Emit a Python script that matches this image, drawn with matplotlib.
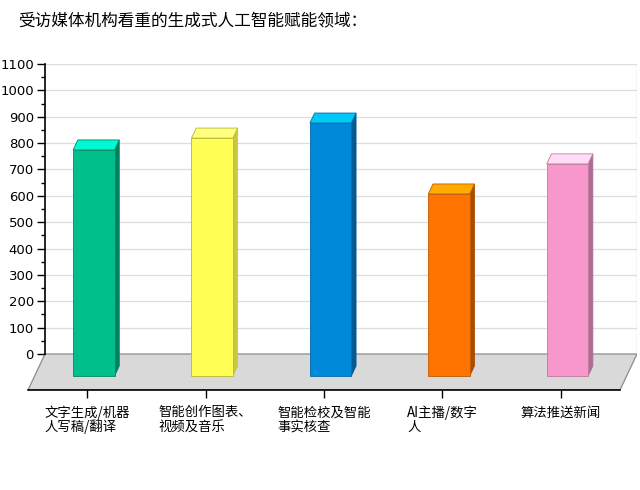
import numpy as np
import matplotlib
matplotlib.use('Agg')
import matplotlib.pyplot as plt
from matplotlib.patches import Polygon

plt.rcParams['font.family'] = ['Noto Sans CJK SC', 'DejaVu Sans']

# data
categories = ['文字生成/机器\n人写稿/翻译', '智能创作图表、\n视频及音乐', '智能检校及智能\n事实核查',
              'AI主播/数字\n人', '算法推送新闻']
values = [774, 819, 876, 607, 721]
front_colors = ['#00BF8A', '#FFFF55', '#0088D8', '#FF7300', '#F897CC']
top_colors = ['#00F8D4', '#FFFF80', '#00C8F8', '#FFAA00', '#FFDDF6']
side_colors = ['#00805E', '#C8C840', '#005A94', '#A84E00', '#B06C92']
edge_colors = ['#008A64', '#B8B830', '#006AA8', '#C05A00', '#C07AA0']

# oblique "3D" geometry: full floor depth in data units
depth_x = 0.1435
depth_y = 136.6
d_front = 0.611
d_back = 0.333
bar_w = 0.35

fig = plt.figure(figsize=(6.4, 4.9), dpi=100)
ax = fig.add_axes([28 / 640, 100 / 490, 609 / 640, 326 / 490])
ax.set_xlim(-0.5 - depth_x, 4.5)
ax.set_ylim(-depth_y, 1100)
ax.patch.set_visible(False)

yt = np.arange(0, 1101, 100)
# back wall grid and right wall
ax.hlines(yt[1:], -0.5, 4.5, color='#DDDDDD', lw=0.9, zorder=0)
ax.vlines(4.5, 0, 1100, color='#BBBBBB', lw=0.9, zorder=0)

# floor
floor = Polygon([(-0.5, 0), (4.5, 0), (4.5 - depth_x, -depth_y), (-0.5 - depth_x, -depth_y)],
                closed=True, facecolor='#D9D9D9', edgecolor='#8C8C8C', lw=0.9, zorder=1)
ax.add_patch(floor)

# bars
for i, v in enumerate(values):
    xl = i - bar_w / 2 - depth_x * d_front
    xr = xl + bar_w
    yb = -depth_y * d_front
    dx = depth_x * (d_front - d_back)
    dy = depth_y * (d_front - d_back)
    front = Polygon([(xl, yb), (xr, yb), (xr, v), (xl, v)], closed=True,
                    facecolor=front_colors[i], edgecolor=edge_colors[i], lw=0.6, zorder=3)
    top = Polygon([(xl, v), (xr, v), (xr + dx, v + dy), (xl + dx, v + dy)], closed=True,
                  facecolor=top_colors[i], edgecolor=edge_colors[i], lw=0.6, zorder=3)
    side = Polygon([(xr, yb), (xr, v), (xr + dx, v + dy), (xr + dx, yb + dy)], closed=True,
                   facecolor=side_colors[i], edgecolor=side_colors[i], lw=0.6, zorder=2)
    ax.add_patch(side)
    ax.add_patch(front)
    ax.add_patch(top)

# axes
for s in ['top', 'right']:
    ax.spines[s].set_visible(False)
ax.spines['left'].set_position(('data', -0.5))
ax.spines['left'].set_bounds(0, 1100)
ax.spines['bottom'].set_bounds(-0.5 - depth_x, 4.5 - depth_x)
ax.spines['left'].set_linewidth(1.2)
ax.spines['bottom'].set_linewidth(1.2)
ax.spines['left'].set_zorder(4)

ax.set_yticks(yt)
ax.set_yticks(np.arange(50, 1100, 100), minor=True)
ax.tick_params(axis='y', which='major', length=6, width=1, labelsize=9.5, pad=2)
ax.tick_params(axis='y', which='minor', length=3, width=1)
for lab in ax.get_yticklabels():
    lab.set_fontfamily('DejaVu Sans')

ax.set_xticks(np.arange(len(categories)) - depth_x)
ax.set_xticklabels(categories, fontsize=9.6, multialignment='left', linespacing=1.0)
ax.tick_params(axis='x', length=6, width=1, pad=5)

fig.text(18 / 640, 1 - 22 / 490, '受访媒体机构看重的生成式人工智能赋能领域：',
         fontsize=12, va='center', ha='left')

fig.savefig('out.png', dpi=100)
